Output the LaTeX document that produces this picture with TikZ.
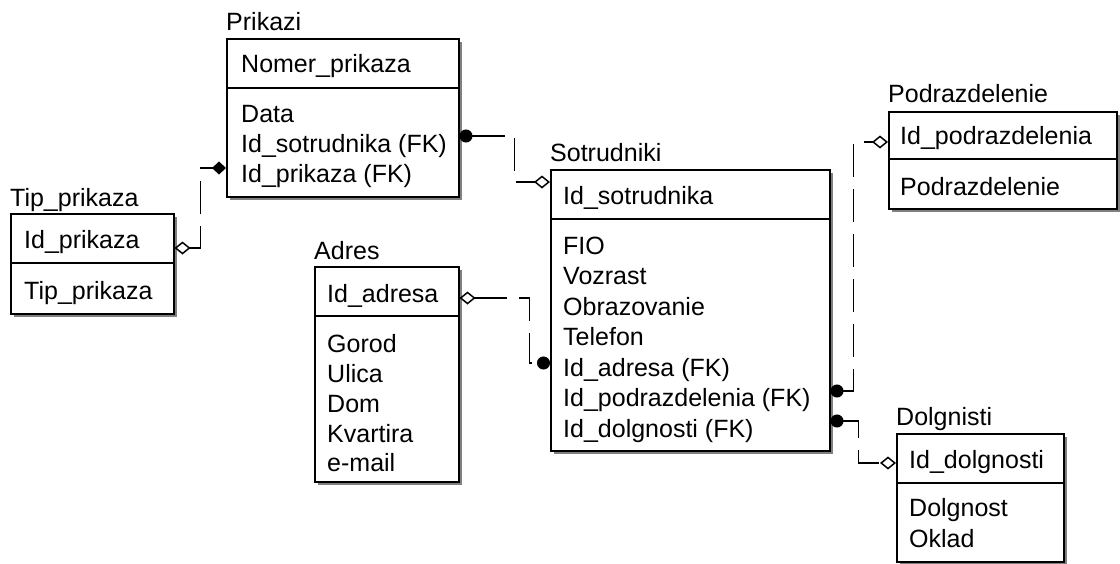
\documentclass[tikz,border=0pt]{standalone}
\usepackage{fontspec}
\setmainfont{Liberation Sans}
\usetikzlibrary{arrows.meta,shadows}
\tikzset{
  dot/.tip={Circle[length=13pt, width=13pt]},
  hdia/.tip={Diamond[open, length=16pt, width=13pt, line width=1.5pt]},
  fdia/.tip={Diamond[length=14pt, width=13pt]}
}
\begin{document}
\begin{tikzpicture}[x=1pt,y=-1pt,
  ent/.style={draw, line width=1.5pt, fill=white, inner sep=0pt, anchor=north west,
    drop shadow={shadow xshift=3pt, shadow yshift=-3pt, fill=black!50, opacity=1}},
  txt/.style={anchor=base west, inner sep=0pt, font=\fontsize{25}{30}\selectfont},
  sep/.style={line width=1.5pt},
  rel/.style={line width=1.6pt, dash pattern=on 33pt off 12pt}
]
\useasboundingbox (0,0) rectangle (1120,563);

% ---- entity boxes ----
\node[ent, minimum width=232pt, minimum height=158pt] (prikazi) at (226,38) {};
\node[ent, minimum width=163pt, minimum height=100pt] (tip) at (10,213) {};
\node[ent, minimum width=144pt, minimum height=215pt] (adres) at (314,266) {};
\node[ent, minimum width=279pt, minimum height=281pt] (sotr) at (550,169) {};
\node[ent, minimum width=228pt, minimum height=97pt] (podr) at (888,111) {};
\node[ent, minimum width=167pt, minimum height=128pt] (dolg) at (896,433) {};

% ---- key / attribute dividers ----
\draw[sep] ([yshift=-50pt]prikazi.north west) -- ([yshift=-50pt]prikazi.north east);
\draw[sep] ([yshift=-50pt]tip.north west) -- ([yshift=-50pt]tip.north east);
\draw[sep] ([yshift=-50pt]adres.north west) -- ([yshift=-50pt]adres.north east);
\draw[sep] ([yshift=-50pt]sotr.north west) -- ([yshift=-50pt]sotr.north east);
\draw[sep] ([yshift=-48pt]podr.north west) -- ([yshift=-48pt]podr.north east);
\draw[sep] ([yshift=-50pt]dolg.north west) -- ([yshift=-50pt]dolg.north east);

% ---- titles ----
\node[txt] (prikazi-t) at (226,30) {Prikazi};
\node[txt] (tip-t) at (10,206) {Tip\_prikaza};
\node[txt] (adres-t) at (314,259) {Adres};
\node[txt] (sotr-t) at (550,161) {Sotrudniki};
\node[txt] (podr-t) at (888,102) {Podrazdelenie};
\node[txt] (dolg-t) at (896,425) {Dolgnisti};

% ---- Prikazi fields ----
\node[txt] (p1) at (241,72) {Nomer\_prikaza};
\node[txt] (p2) at (241,122) {Data};
\node[txt] (p3) at (241,152) {Id\_sotrudnika (FK)};
\node[txt] (p4) at (241,182) {Id\_prikaza (FK)};

% ---- Tip_prikaza fields ----
\node[txt] (t1) at (24,248) {Id\_prikaza};
\node[txt] (t2) at (24,299) {Tip\_prikaza};

% ---- Adres fields ----
\node[txt] (a1) at (327,302) {Id\_adresa};
\node[txt] (a2) at (327,352) {Gorod};
\node[txt] (a3) at (327,382) {Ulica};
\node[txt] (a4) at (327,412) {Dom};
\node[txt] (a5) at (327,442) {Kvartira};
\node[txt] (a6) at (327,471) {e-mail};

% ---- Sotrudniki fields ----
\node[txt] (s1) at (563,204) {Id\_sotrudnika};
\node[txt] (s2) at (563,254) {FIO};
\node[txt] (s3) at (563,284.5) {Vozrast};
\node[txt] (s4) at (563,315) {Obrazovanie};
\node[txt] (s5) at (563,345.5) {Telefon};
\node[txt] (s6) at (563,376) {Id\_adresa (FK)};
\node[txt] (s7) at (563,406.5) {Id\_podrazdelenia (FK)};
\node[txt] (s8) at (563,437) {Id\_dolgnosti (FK)};

% ---- Podrazdelenie fields ----
\node[txt] (d1) at (900,144) {Id\_podrazdelenia};
\node[txt] (d2) at (900,195) {Podrazdelenie};

% ---- Dolgnisti fields ----
\node[txt] (g1) at (909,468) {Id\_dolgnosti};
\node[txt] (g2) at (909,516) {Dolgnost};
\node[txt] (g3) at (909,547) {Oklad};

% ---- relationships ----
\draw[rel, {hdia}-{fdia}] ([yshift=-35pt]tip.north east) -- ++(26pt,0)
  |- ([yshift=-130pt]prikazi.north west);
\draw[rel, {dot}-{hdia}] ([yshift=-98pt]prikazi.north east) -- ++(55pt,0)
  |- ([yshift=-13pt]sotr.north west);
\draw[rel, {hdia}-{dot}] ([yshift=-32pt]adres.north east) -- ++(70pt,0)
  |- ([yshift=-194pt]sotr.north west);
\draw[rel, {dot}-{hdia}] ([yshift=-222pt]sotr.north east) -- ++(23pt,0)
  |- ([yshift=-31pt]podr.north west);
\draw[rel, {dot}-{hdia}] ([yshift=-252pt]sotr.north east) -- ++(28pt,0)
  |- ([yshift=-30pt]dolg.north west);
\end{tikzpicture}
\end{document}
